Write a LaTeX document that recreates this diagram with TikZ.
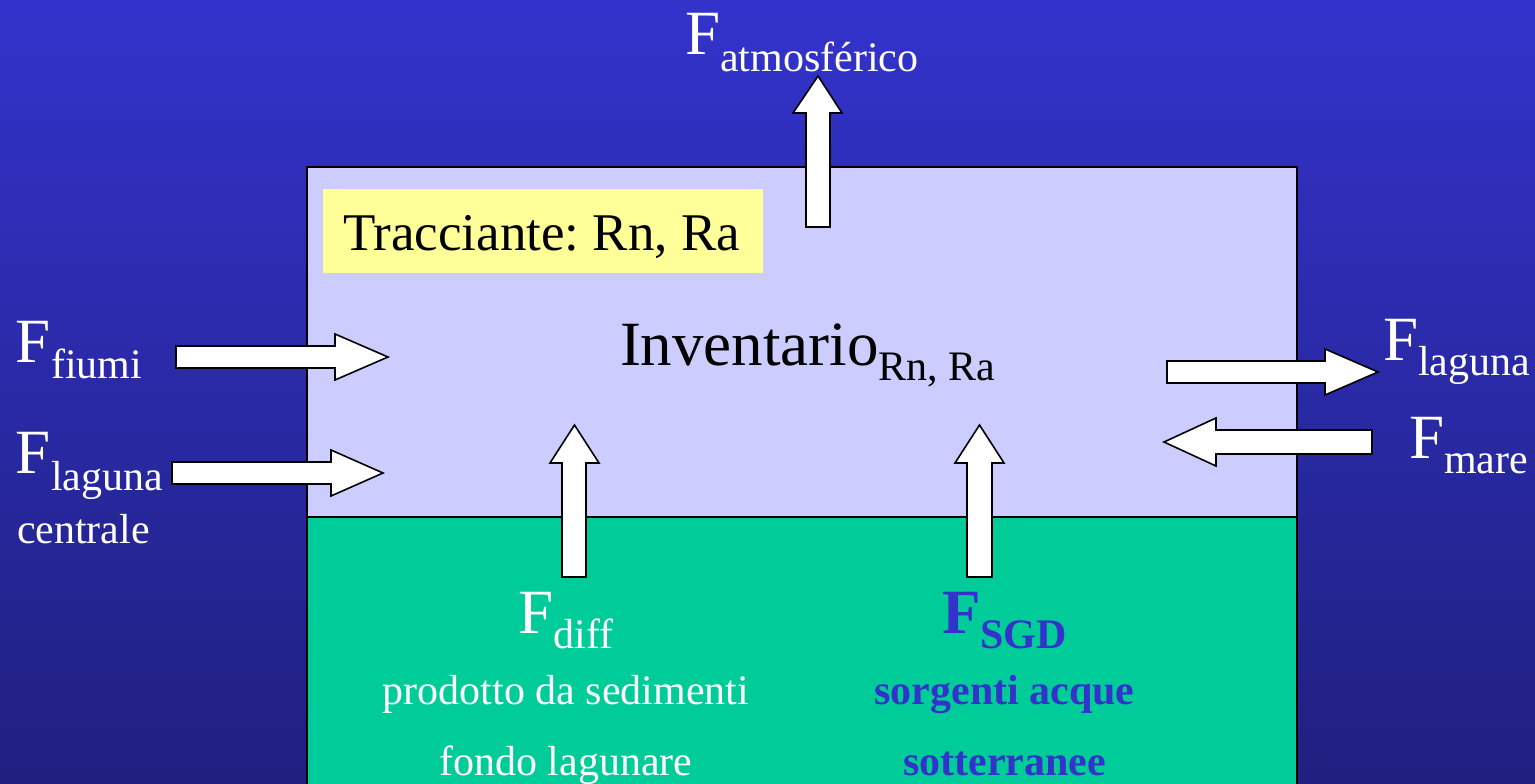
\documentclass[tikz,border=0pt]{standalone}
\usepackage{fontspec}
\setmainfont{Liberation Serif}
\frenchspacing
\definecolor{bgtop}{RGB}{51,51,204}
\definecolor{bgbot}{RGB}{32,32,128}
\definecolor{lav}{RGB}{204,204,255}
\definecolor{sea}{RGB}{0,204,153}
\definecolor{pale}{RGB}{255,255,153}
\definecolor{txtblue}{RGB}{51,51,204}
\newcommand\bigsub[3]{{\fontsize{63}{63}\selectfont #1\raisebox{-#2pt}{\fontsize{42}{42}\selectfont #3}}}
\newcommand\smalltxt{\fontsize{42}{42}\selectfont}
\tikzset{
  blockarrow/.style={draw=black, fill=white, line width=1.6pt, line join=miter},
  lbl/.style={inner sep=0pt, outer sep=0pt, anchor=base west, text=white},
  lblc/.style={inner sep=0pt, outer sep=0pt, anchor=base, text=white},
}
\begin{document}
\begin{tikzpicture}[x=1pt,y=-1pt]
\useasboundingbox (0,0) rectangle (1535,784);
\shade[top color=bgtop, bottom color=bgbot] (0,0) rectangle (1535,784);
\begin{scope}
\clip (0,0) rectangle (1535,784);
\fill[lav] (307,167) rectangle (1297,517);
\fill[sea] (307,517) rectangle (1297,800);
\draw[line width=1.6pt] (307,800) -- (307,167) -- (1297,167) -- (1297,800);
\draw[line width=1.6pt] (307,517) -- (1297,517);
\end{scope}
% tracer box
\fill[pale] (323,189) rectangle (763,273);
\node[lbl, text=black] (trac) at (343,250) {\fontsize{53}{53}\selectfont Tracciante: Rn, Ra};
% arrows
\draw[blockarrow] (806,227) -- (806,113) -- (793,113) -- (818,76) -- (842,113) -- (830,113) -- (830,227) -- cycle;
\draw[blockarrow] (176,346) -- (335,346) -- (335,334) -- (388,357) -- (335,380) -- (335,368) -- (176,368) -- cycle;
\draw[blockarrow] (172,462) -- (331,462) -- (331,450) -- (383,473) -- (331,496) -- (331,484) -- (172,484) -- cycle;
\draw[blockarrow] (1167,361) -- (1325,361) -- (1325,349) -- (1378,372) -- (1325,395) -- (1325,383) -- (1167,383) -- cycle;
\draw[blockarrow] (1372,430) -- (1216,430) -- (1216,418) -- (1164,442) -- (1216,466) -- (1216,454) -- (1372,454) -- cycle;
\draw[blockarrow] (562,577) -- (562,463) -- (550,463) -- (574.5,425) -- (599,463) -- (586,463) -- (586,577) -- cycle;
\draw[blockarrow] (967,577) -- (967,463) -- (955,463) -- (979.5,425) -- (1004,463) -- (992,463) -- (992,577) -- cycle;
% labels
\node[lbl] (atm) at (685,55) {\bigsub{F}{17}{atmosférico}};
\node[lbl, text=black] (inv) at (620,365) {\bigsub{Inventario}{15}{Rn, Ra}};
\node[lbl] (fiumi) at (16,362) {\bigsub{F}{16}{fiumi}};
\node[lbl] (lagc) at (16,473) {\bigsub{F}{17}{laguna}};
\node[lbl] (centr) at (17,543) {\smalltxt centrale};
\node[lbl] (lagr) at (1383,360) {\bigsub{F}{15}{laguna}};
\node[lbl] (mare) at (1409,458) {\bigsub{F}{15}{mare}};
\node[lblc] (diff) at (566,633) {\bigsub{F}{15}{diff}};
\node[lblc] (sed1) at (566,704) {\smalltxt prodotto da sedimenti};
\node[lblc] (sed2) at (566,775) {\smalltxt fondo lagunare};
\node[lblc, text=txtblue] (sgd) at (1004.5,633) {\bfseries\bigsub{F}{15}{SGD}};
\node[lblc, text=txtblue] (sgd1) at (1004.5,704) {\bfseries\smalltxt sorgenti acque};
\node[lblc, text=txtblue] (sgd2) at (1004.5,775) {\bfseries\smalltxt sotterranee};
\end{tikzpicture}
\end{document}
